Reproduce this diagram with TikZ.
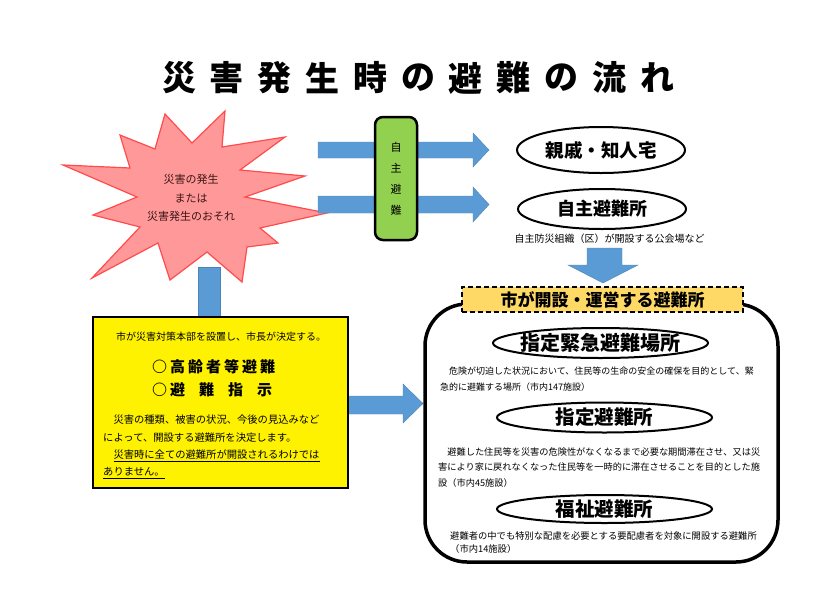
\documentclass[tikz,border=0pt]{standalone}
\usepackage{fontspec}
\newfontfamily\jp{Noto Sans CJK JP}
\usetikzlibrary{shapes.geometric}
\definecolor{ablue}{RGB}{91,155,213}
\definecolor{agreen}{RGB}{146,208,80}
\definecolor{agold}{RGB}{255,217,102}
\definecolor{starfill}{RGB}{255,153,153}
\definecolor{starline}{RGB}{255,75,75}
\definecolor{startext}{RGB}{60,20,20}
\begin{document}
\begin{tikzpicture}[x=1pt,y=-1pt,font=\jp,
  blockarrow/.style={fill=ablue,draw=ablue!85!black,line width=0.4pt},
  oval/.style={ellipse,draw,line width=2pt,fill=white,inner sep=0pt},
  ovallabel/.style={inner sep=0pt,font=\jp\bfseries\fontsize{#1}{#1}\selectfont},
  para/.style={anchor=west,inner sep=0pt,font=\jp\fontsize{#1}{#1}\selectfont},
  titlechar/.style={inner sep=0pt,font=\jp\bfseries\fontsize{34}{34}\selectfont}]
\useasboundingbox[fill=white] (0,0) rectangle (827,603);

% title
\foreach \c [count=\i from 0] in {災,害,発,生,時,の,避,難,の,流,れ}
  \node[titlechar] (t\i) at ({179+\i*47.8},78) {\c};

% star
\draw[fill=starfill,draw=starline,line width=1.2pt]
  (165,114) -- (192,143) -- (225,111) -- (222,147) -- (285,137) -- (240,170)
  -- (305,176) -- (245,197) -- (327,213) -- (260,228) -- (278,243) -- (247,247)
  -- (242,282) -- (207,252) -- (170,280) -- (158,243) -- (92,278) -- (140,227)
  -- (93,215) -- (137,197) -- (63,165) -- (130,168) -- (120,135) -- (155,149) -- cycle;
\node[align=center,text=startext,font=\jp\fontsize{11}{18.5}\selectfont] (star) at (191,198)
  {災害の発生\\または\\災害発生のおそれ};

% arrows to the right
\draw[blockarrow] (318,142) -- (473,142) -- (473,133) -- (489,150) -- (473,167) -- (473,158) -- (318,158) -- cycle;
\draw[blockarrow] (318,196) -- (473,196) -- (473,187) -- (489,204.5) -- (473,222) -- (473,213) -- (318,213) -- cycle;

% green box
\node[draw,line width=2.5pt,fill=agreen,rounded corners=8pt,minimum width=42pt,minimum height=123pt,
  inner sep=0pt,align=center,font=\jp\fontsize{11}{21}\selectfont] (jishu) at (396,178.5) {自\\主\\避\\難};

% top ellipses
\node[oval,minimum width=168pt,minimum height=46pt] (shinseki) at (601,150) {};
\node[ovallabel=18.5] (shinsekit) at (shinseki) {親戚・知人宅};
\node[oval,minimum width=168pt,minimum height=40pt] (jishusho) at (602,209) {};
\node[ovallabel=18] (jishushot) at (jishusho) {自主避難所};
\node[inner sep=0pt,font=\jp\fontsize{10}{10}\selectfont] (kokaijo) at (609.5,239) {自主防災組織（区）が開設する公会場など};

% down arrow
\draw[blockarrow] (587,248) -- (622,248) -- (622,265) -- (638,265) -- (603,283) -- (568,265) -- (587,265) -- cycle;

% right arrow from yellow box
\draw[blockarrow] (347,396) -- (403,396) -- (403,384) -- (423,403.5) -- (403,423) -- (403,414) -- (347,414) -- cycle;

% big rounded rectangle
\node[draw,line width=3.5pt,rounded corners=42pt,minimum width=353pt,minimum height=258pt,inner sep=0pt] (big) at (601.5,433) {};
\node[draw,dashed,dash pattern=on 5pt off 3pt,line width=1.5pt,fill=agold,minimum width=281pt,minimum height=25pt,inner sep=0pt,
  font=\jp\bfseries\fontsize{17}{17}\selectfont] (shi) at (602.5,299.5) {市が開設・運営する避難所};

% inner ellipses
\node[oval,minimum width=215pt,minimum height=30pt] (kinkyu) at (600.5,343) {};
\node[ovallabel=20] (kinkyut) at (kinkyu) {指定緊急避難場所};
\node[oval,minimum width=215pt,minimum height=30pt] (shitei) at (604.5,417.5) {};
\node[ovallabel=19.5] (shiteit) at (shitei) {指定避難所};
\node[oval,minimum width=215pt,minimum height=28pt] (fukushi) at (604.5,509) {};
\node[ovallabel=19.5] (fukushit) at (fukushi) {福祉避難所};

% paragraphs
\node[para=9] (p1a) at (440,371) {　危険が切迫した状況において、住民等の生命の安全の確保を目的として、緊};
\node[para=9] (p1b) at (440,387) {急的に避難する場所（市内147施設）};
\node[para=9.2] (p2a) at (438,452) {　避難した住民等を災害の危険性がなくなるまで必要な期間滞在させ、又は災};
\node[para=9.2] (p2b) at (438,467) {害により家に戻れなくなった住民等を一時的に滞在させることを目的とした施};
\node[para=9.2] (p2c) at (438,483) {設（市内45施設）};
\node[para=9.3] (p3a) at (450,536) {避難者の中でも特別な配慮を必要とする要配慮者を対象に開設する避難所};
\node[para=9.3] (p3b) at (450,549) {（市内14施設）};

% stub below star
\draw[blockarrow] (198,267) rectangle (220,317);

% yellow box
\node[draw,fill=yellow,line width=1.2pt,minimum width=255pt,minimum height=171pt,inner sep=0pt] (ybox) at (220.5,402.5) {};
\node[para=10] (y1) at (116,337) {市が災害対策本部を設置し、市長が決定する。};
\node[anchor=west,inner sep=0pt,font=\jp\bfseries\fontsize{15}{15}\selectfont] (y2) at (152,367)
  {○\kern3pt高\kern3pt齢\kern3pt者\kern3pt等\kern3pt避\kern3pt難};
\node[anchor=west,inner sep=0pt,font=\jp\bfseries\fontsize{15}{15}\selectfont] (y3) at (152,390)
  {○\kern3pt避\kern14pt難\kern14pt指\kern14pt示};
\node[para=10.3] (y4) at (103,420) {　災害の種類、被害の状況、今後の見込みなど};
\node[para=10.3] (y5) at (103,438) {によって、開設する避難所を決定します。};
\node[para=10.3] (y6) at (103,456) {　\underline{災害時に全ての避難所が開設されるわけでは}};
\node[para=10.3] (y7) at (103,473) {\underline{ありません。}};
\end{tikzpicture}
\end{document}
